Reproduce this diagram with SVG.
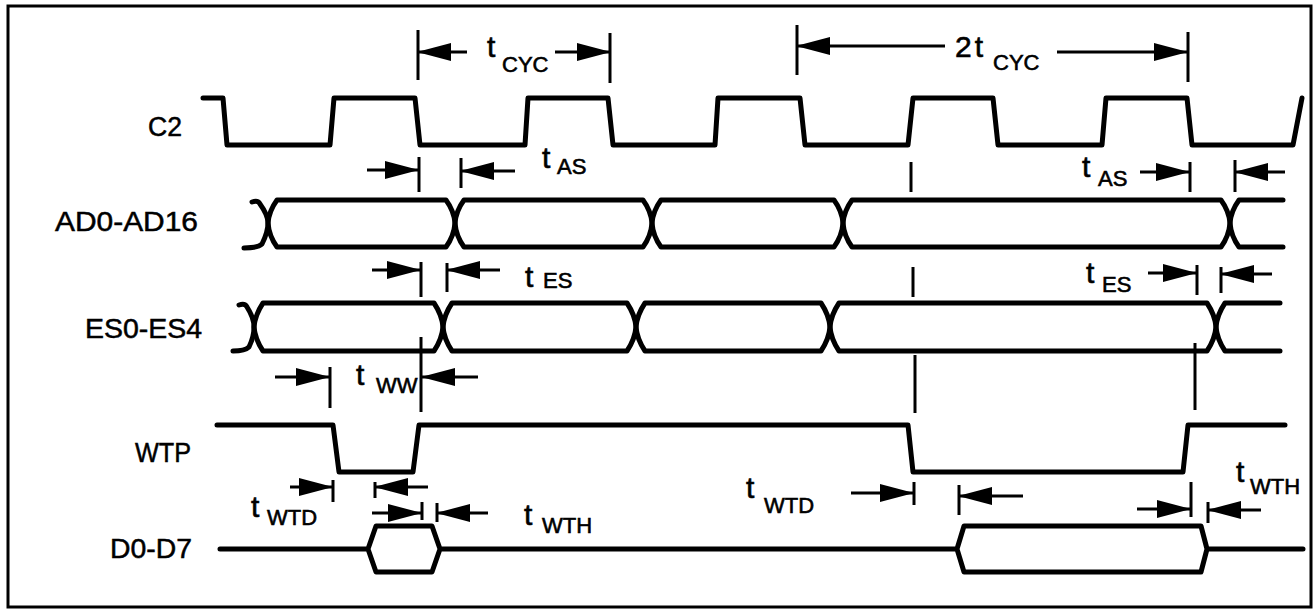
<svg xmlns="http://www.w3.org/2000/svg" width="1315" height="611" viewBox="0 0 1315 611">
<style>
.frame{fill:none;stroke:#000;stroke-width:3}
.sig{fill:none;stroke:#000;stroke-width:5;stroke-linejoin:round;stroke-linecap:round}
.tick{stroke:#000;stroke-width:3;fill:none}
.arr{stroke:#000;stroke-width:3;fill:none;marker-end:url(#ah)}
.lbl{font-family:"Liberation Sans",Arial,sans-serif;font-size:27px;fill:#000;stroke:#000;stroke-width:0.5}
.t{font-family:"Liberation Sans",Arial,sans-serif;font-size:30px;fill:#000;stroke:#000;stroke-width:0.6}
.sub{font-size:22px}
</style>
<defs>
<marker id="ah" markerUnits="userSpaceOnUse" markerWidth="34" markerHeight="18" refX="33" refY="9" orient="auto">
<path d="M0,0 L34,9 L0,18 Z" fill="#000"/>
</marker>
</defs>
<rect class="frame" x="8" y="6" width="1303" height="601"/>

<g id="C2">
<text class="lbl" x="148" y="136" textLength="34" lengthAdjust="spacingAndGlyphs">C2</text>
<path class="sig" d="M203,98 L223,98 L227,145 L330,145 L334,98 L415,98 L420,145 L525,145 L528,98 L608,98 L613,145 L715,145 L718,98 L800,98 L805,145 L908,145 L913,98 L993,98 L998,145 L1102,145 L1106,98 L1187,98 L1192,145 L1293,145 L1302,98"/>
</g>

<g id="AD0-AD16">
<text class="lbl" x="55" y="231" textLength="143" lengthAdjust="spacingAndGlyphs">AD0-AD16</text>
<path class="sig" d="M252,202 Q258,200 260,204 Q268,215 268,223 Q268,232 262,244 Q258,248 244,248"/>
<path class="sig" d="M277,200 Q269,211 268,223 Q269,236 277,247 L446,247 Q454,236 455,223 Q454,211 446,200 Z"/>
<path class="sig" d="M464,200 Q456,211 455,223 Q456,236 464,247 L643,247 Q651,236 652,223 Q651,211 643,200 Z"/>
<path class="sig" d="M661,200 Q653,211 652,223 Q653,236 661,247 L834,247 Q842,236 843,223 Q842,211 834,200 Z"/>
<path class="sig" d="M852,200 Q844,211 843,223 Q844,236 852,247 L1221,247 Q1229,236 1230,223 Q1229,211 1221,200 Z"/>
<path class="sig" d="M1283,200 L1239,200 Q1231,211 1230,223 Q1231,236 1239,247 L1283,247"/>
</g>

<g id="ES0-ES4">
<text class="lbl" x="85" y="338" textLength="117" lengthAdjust="spacingAndGlyphs">ES0-ES4</text>
<path class="sig" d="M239,305 Q245,303 247,307 Q254,318 254,327 Q254,337 249,347 Q245,351 233,351"/>
<path class="sig" d="M263,303 Q255,315 254,327 Q255,339 263,351 L434,351 Q442,339 443,327 Q442,315 434,303 Z"/>
<path class="sig" d="M452,303 Q444,315 443,327 Q444,339 452,351 L627,351 Q635,339 636,327 Q635,315 627,303 Z"/>
<path class="sig" d="M645,303 Q637,315 636,327 Q637,339 645,351 L821,351 Q829,339 830,327 Q829,315 821,303 Z"/>
<path class="sig" d="M839,303 Q831,315 830,327 Q831,339 839,351 L1207,351 Q1215,339 1216,327 Q1215,315 1207,303 Z"/>
<path class="sig" d="M1280,303 L1225,303 Q1217,315 1216,327 Q1217,339 1225,351 L1280,351"/>
</g>

<g id="WTP">
<text class="lbl" x="135" y="462" textLength="56" lengthAdjust="spacingAndGlyphs">WTP</text>
<path class="sig" d="M217,425 L333,425 L339,472 L413,472 L419,425 L908,425 L913,472 L1183,472 L1188,425 L1285,425"/>
</g>

<g id="D0-D7">
<text class="lbl" x="110" y="558" textLength="82" lengthAdjust="spacingAndGlyphs">D0-D7</text>
<path class="sig" d="M220,549 L368,549 L376,526 L432,526 L440,549 L432,572 L376,572 L368,549 M440,549 L957,549 L964,526 L1201,526 L1207,549 L1201,572 L964,572 L957,549 M1207,549 L1303,549"/>
</g>

<g id="connectors">
<line class="tick" x1="418" y1="30" x2="418" y2="80"/>
<line class="tick" x1="610" y1="33" x2="610" y2="83"/>
<line class="tick" x1="797" y1="25" x2="797" y2="75"/>
<line class="tick" x1="1188" y1="32" x2="1188" y2="82"/>
<line class="tick" x1="419" y1="157" x2="419" y2="192"/>
<line class="tick" x1="461" y1="158" x2="461" y2="188"/>
<line class="tick" x1="911" y1="162" x2="911" y2="192"/>
<line class="tick" x1="1190" y1="162" x2="1190" y2="192"/>
<line class="tick" x1="1235" y1="160" x2="1235" y2="192"/>
<line class="tick" x1="421" y1="262" x2="421" y2="297"/>
<line class="tick" x1="447" y1="263" x2="447" y2="292"/>
<line class="tick" x1="913" y1="267" x2="913" y2="297"/>
<line class="tick" x1="1197" y1="265" x2="1197" y2="295"/>
<line class="tick" x1="1221" y1="267" x2="1221" y2="293"/>
<line class="tick" x1="421" y1="337" x2="421" y2="412"/>
<line class="tick" x1="330" y1="367" x2="330" y2="408"/>
<line class="tick" x1="915" y1="355" x2="915" y2="413"/>
<line class="tick" x1="1195" y1="343" x2="1195" y2="410"/>
<line class="tick" x1="333" y1="480" x2="333" y2="502"/>
<line class="tick" x1="375" y1="482" x2="375" y2="498"/>
<line class="tick" x1="422" y1="502" x2="422" y2="520"/>
<line class="tick" x1="437" y1="503" x2="437" y2="522"/>
<line class="tick" x1="914" y1="482" x2="914" y2="505"/>
<line class="tick" x1="959" y1="485" x2="959" y2="515"/>
<line class="tick" x1="1191" y1="482" x2="1191" y2="517"/>
<line class="tick" x1="1208" y1="502" x2="1208" y2="523"/>

<line class="arr" x1="467" y1="52" x2="418" y2="52"/>
<line class="arr" x1="555" y1="52" x2="610" y2="52"/>
<line class="arr" x1="945" y1="46" x2="797" y2="46"/>
<line class="arr" x1="1057" y1="52" x2="1187" y2="52"/>
<line class="arr" x1="367" y1="170" x2="418" y2="170"/>
<line class="arr" x1="515" y1="171" x2="461" y2="171"/>
<line class="arr" x1="1140" y1="172" x2="1189" y2="172"/>
<line class="arr" x1="1285" y1="172" x2="1235" y2="172"/>
<line class="arr" x1="372" y1="270" x2="420" y2="270"/>
<line class="arr" x1="500" y1="270" x2="447" y2="270"/>
<line class="arr" x1="1148" y1="273" x2="1196" y2="273"/>
<line class="arr" x1="1272" y1="274" x2="1221" y2="274"/>
<line class="arr" x1="275" y1="377" x2="329" y2="377"/>
<line class="arr" x1="478" y1="377" x2="422" y2="377"/>
<line class="arr" x1="290" y1="487" x2="332" y2="487"/>
<line class="arr" x1="428" y1="487" x2="375" y2="487"/>
<line class="arr" x1="851" y1="493" x2="913" y2="493"/>
<line class="arr" x1="1023" y1="496" x2="959" y2="496"/>
<line class="arr" x1="372" y1="513" x2="421" y2="513"/>
<line class="arr" x1="488" y1="513" x2="437" y2="513"/>
<line class="arr" x1="1137" y1="509" x2="1190" y2="509"/>
<line class="arr" x1="1261" y1="510" x2="1208" y2="510"/>
</g>

<g id="timing-labels">
<text class="t" x="487" y="57">t<tspan class="sub" x="502" y="72">CYC</tspan></text>
<text class="t" x="955" y="57" letter-spacing="3">2t<tspan class="sub" x="993" y="70" letter-spacing="0">CYC</tspan></text>
<text class="t" x="542" y="168">t<tspan class="sub" x="557" y="174">AS</tspan></text>
<text class="t" x="1082" y="177">t<tspan class="sub" x="1098" y="186">AS</tspan></text>
<text class="t" x="525" y="287">t<tspan class="sub" x="543" y="288">ES</tspan></text>
<text class="t" x="1086" y="283">t<tspan class="sub" x="1102" y="292">ES</tspan></text>
<text class="t" x="356" y="385">t<tspan class="sub" x="376" y="393">WW</tspan></text>
<text class="t" x="251" y="517">t<tspan class="sub" x="267" y="525">WTD</tspan></text>
<text class="t" x="524" y="525">t<tspan class="sub" x="542" y="533">WTH</tspan></text>
<text class="t" x="746" y="498">t<tspan class="sub" x="764" y="513">WTD</tspan></text>
<text class="t" x="1236" y="482">t<tspan class="sub" x="1250" y="494">WTH</tspan></text>
</g>
</svg>
